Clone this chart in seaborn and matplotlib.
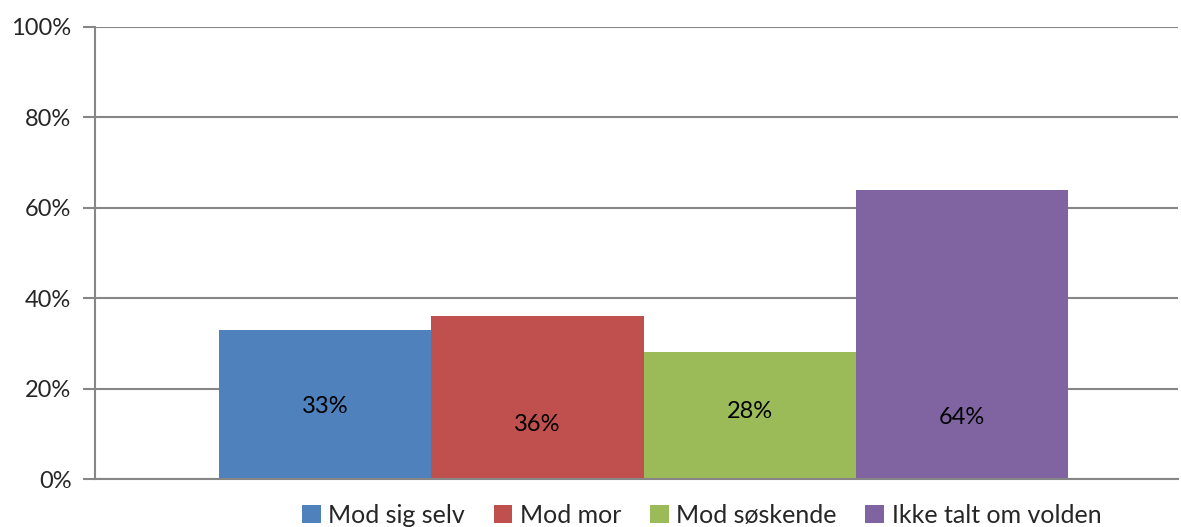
import matplotlib
matplotlib.use("Agg")
import matplotlib.pyplot as plt
import seaborn as sns
import pandas as pd

categories = ["Mod sig selv", "Mod mor", "Mod søskende", "Ikke talt om volden"]
values = [33, 36, 28, 64]
value_labels = ["33%", "36%", "28%", "64%"]
label_heights = [16, 12, 15, 13.5]
yticks = [0, 20, 40, 60, 80, 100]
ytick_labels = ["0%", "20%", "40%", "60%", "80%", "100%"]
colors = ["#4F81BD", "#C0504D", "#9BBB59", "#8064A2"]

sns.set_style("white")
plt.rcParams["font.family"] = ["Lato", "DejaVu Sans"]

df = pd.DataFrame({"group": [""] * len(categories), "serie": categories, "value": values})

fig = plt.figure(figsize=(11.81, 5.27), dpi=100)
ax = fig.add_axes([95 / 1181, 1 - 479 / 527, (1178 - 95) / 1181, (479 - 27) / 527])

sns.barplot(data=df, x="group", y="value", hue="serie", hue_order=categories,
            palette=colors, width=0.784, gap=0, saturation=1, linewidth=0,
            ax=ax, legend=True)

ax.set_ylim(0, 100)
ax.set_xlim(-0.5 - 0.0065, 0.5 - 0.0065)
ax.set_yticks(yticks)
ax.set_yticklabels(ytick_labels, fontsize=17)
ax.set_xticks([])
ax.set_xlabel("")
ax.set_ylabel("")
grid_c = "#868686"
ax.yaxis.grid(True, color=grid_c, linewidth=1.5)
ax.set_axisbelow(True)
for s in ["top", "right"]:
    ax.spines[s].set_visible(False)
ax.spines["left"].set_color(grid_c)
ax.spines["left"].set_linewidth(1.5)
ax.spines["bottom"].set_color(grid_c)
ax.spines["bottom"].set_linewidth(1.5)
ax.tick_params(axis="y", length=9, width=1.5, color=grid_c, pad=8, left=True)

for cont, lab, h in zip(ax.containers, value_labels, label_heights):
    p = cont[0]
    ax.text(p.get_x() + p.get_width() / 2, h, lab, ha="center", va="center",
            fontsize=17, color="black")

handles, labels = ax.get_legend_handles_labels()
ax.legend(handles, labels, loc="center", bbox_to_anchor=(0.594, 0.022),
          bbox_transform=fig.transFigure, ncol=4, frameon=False, fontsize=18,
          handlelength=0.75, handleheight=0.75, handletextpad=0.3, columnspacing=1.15)

fig.savefig("out.png", dpi=100)
